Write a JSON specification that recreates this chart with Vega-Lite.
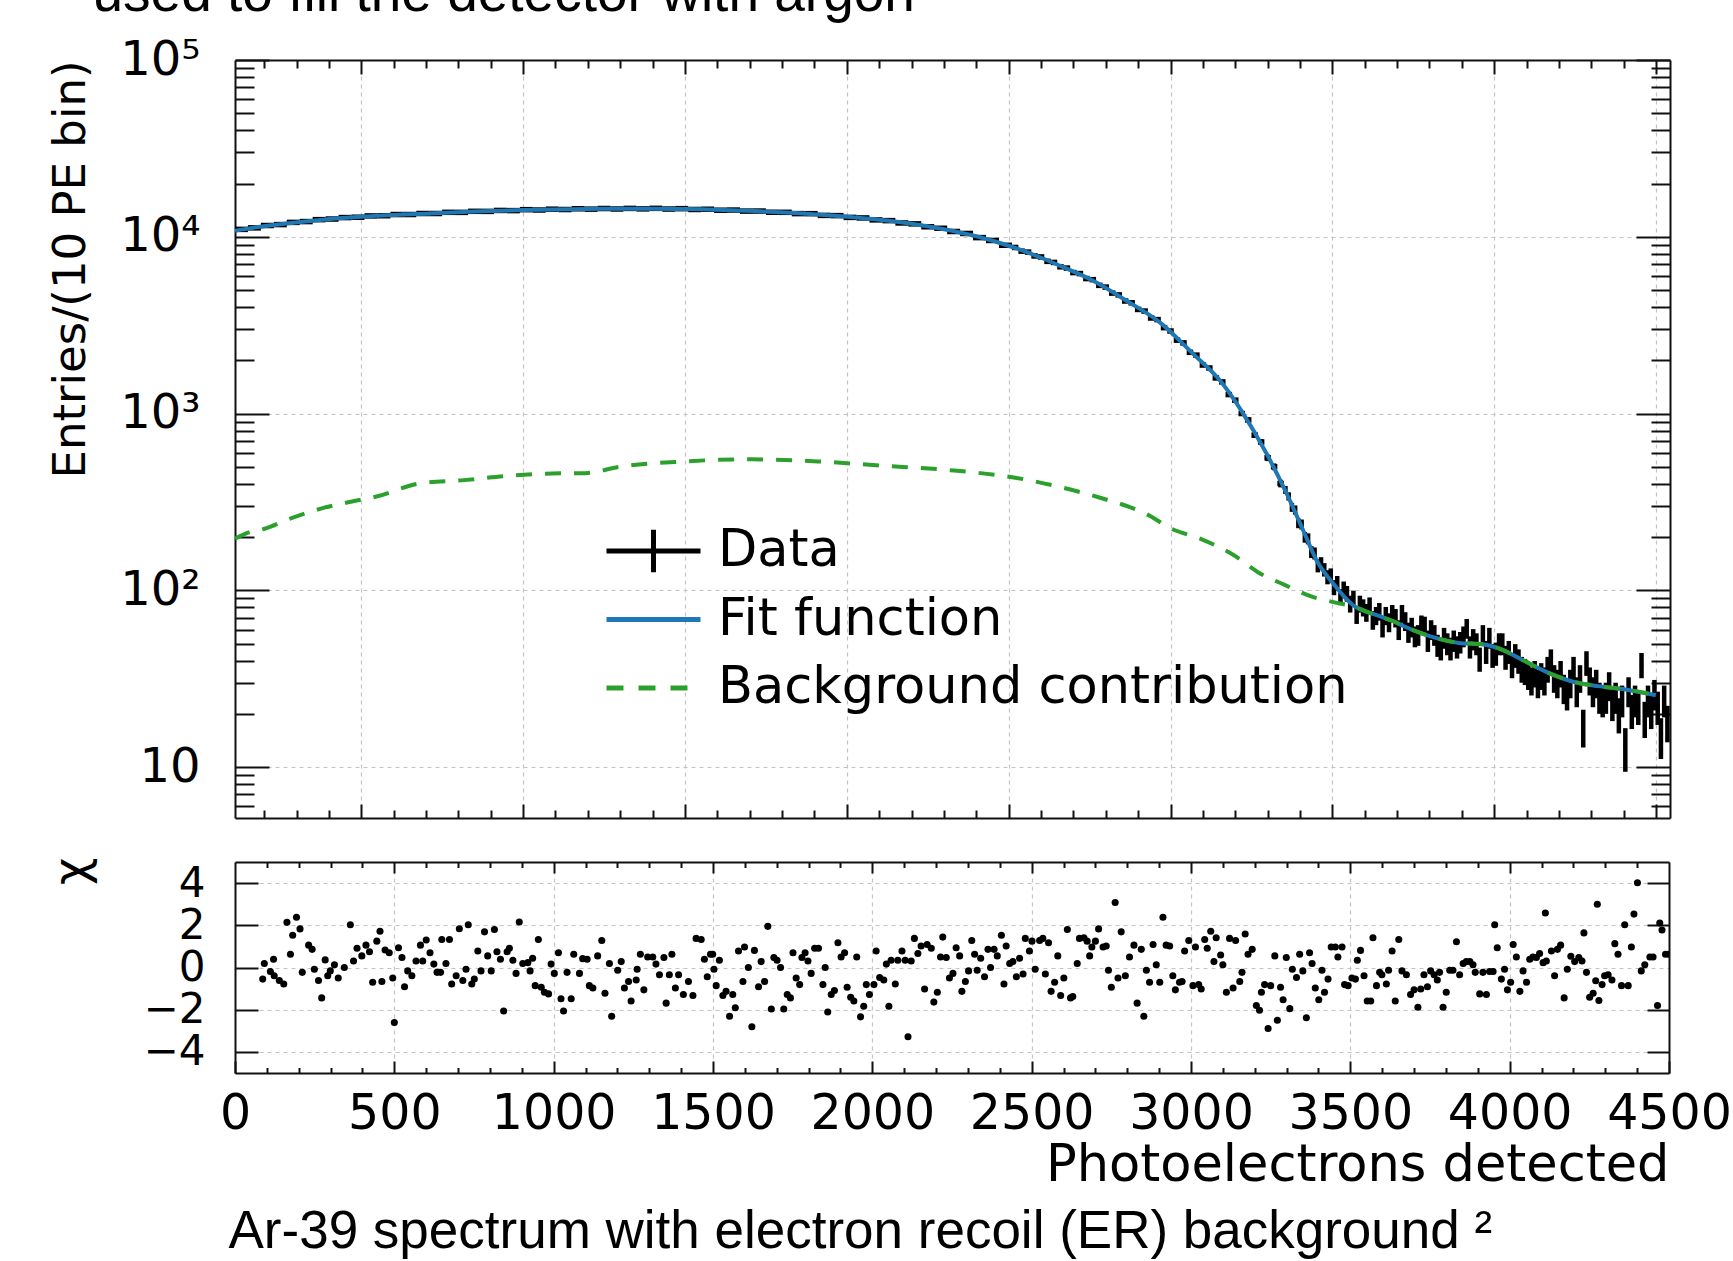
{
  "$schema": "https://vega.github.io/schema/vega-lite/v6.json",
  "autosize": {"type": "none"},
  "padding": {"left": 235, "top": 60, "right": 1498, "bottom": 1201},
  "background": "white",
  "config": {"view": {"stroke": null}},
  "datasets": {
    "fit": [{"x":110,"y":10810},{"x":180,"y":11350},{"x":270,"y":11890},{"x":380,"y":12500},{"x":500,"y":12980},{"x":713,"y":13550},{"x":850,"y":13900},{"x":1000,"y":14160},{"x":1245,"y":14390},{"x":1400,"y":14420},{"x":1504,"y":14350},{"x":1689,"y":14030},{"x":1866,"y":13540},{"x":2000,"y":12970},{"x":2100,"y":12470},{"x":2200,"y":11840},{"x":2300,"y":11030},{"x":2400,"y":10065},{"x":2500,"y":8897},{"x":2600,"y":7610},{"x":2658,"y":6859},{"x":2761,"y":5641},{"x":2864,"y":4348},{"x":2967,"y":3280},{"x":3070,"y":2174},{"x":3153,"y":1536},{"x":3225,"y":996},{"x":3297,"y":592},{"x":3359,"y":352},{"x":3410,"y":218},{"x":3451,"y":148},{"x":3503,"y":109},{"x":3564,"y":82.3},{"x":3637,"y":72.3},{"x":3688,"y":66.8},{"x":3721,"y":62.6},{"x":3822,"y":53.6},{"x":3890,"y":50.4},{"x":3963,"y":49.5},{"x":4016,"y":46.8},{"x":4089,"y":40.2},{"x":4173,"y":33.8},{"x":4247,"y":30.3},{"x":4321,"y":28.7},{"x":4405,"y":27.5},{"x":4499,"y":25.5}],
    "bg": [{"x":110,"y":196},{"x":150,"y":212},{"x":202,"y":223},{"x":270,"y":250},{"x":373,"y":289},{"x":475,"y":319},{"x":544,"y":338},{"x":680,"y":402},{"x":817,"y":420},{"x":954,"y":444},{"x":1090,"y":458},{"x":1193,"y":460},{"x":1295,"y":499},{"x":1500,"y":536},{"x":1705,"y":551},{"x":1910,"y":536},{"x":2115,"y":506},{"x":2320,"y":478},{"x":2525,"y":432},{"x":2658,"y":384},{"x":2780,"y":335},{"x":2934,"y":265},{"x":3003,"y":223},{"x":3091,"y":196},{"x":3196,"y":158},{"x":3269,"y":127},{"x":3354,"y":107},{"x":3437,"y":92},{"x":3500,"y":86},{"x":3564,"y":81},{"x":3637,"y":72},{"x":3688,"y":66.8},{"x":3721,"y":62.6},{"x":3822,"y":53.6},{"x":3890,"y":50.4},{"x":3963,"y":49.5},{"x":4016,"y":46.8},{"x":4089,"y":40.2},{"x":4173,"y":33.8},{"x":4247,"y":30.3},{"x":4321,"y":28.7},{"x":4405,"y":27.5},{"x":4499,"y":25.5}],
    "hist": [
{"x":130,"w":20,"y":11010,"e":105},{"x":170,"w":20,"y":11230,"e":106},{"x":210,"w":20,"y":11580,"e":108},{"x":250,"w":20,"y":11720,"e":108},{"x":290,"w":20,"y":12060,"e":110},{"x":330,"w":20,"y":12190,"e":110},{"x":370,"w":20,"y":12500,"e":112},{"x":410,"w":20,"y":12600,"e":112},{"x":450,"w":20,"y":12840,"e":113},{"x":490,"w":20,"y":12900,"e":114},{"x":530,"w":20,"y":13120,"e":115},{"x":570,"w":20,"y":13150,"e":115},{"x":610,"w":20,"y":13360,"e":116},{"x":650,"w":20,"y":13360,"e":116},{"x":690,"w":20,"y":13540,"e":116},{"x":730,"w":20,"y":13540,"e":116},{"x":770,"w":20,"y":13750,"e":117},{"x":810,"w":20,"y":13740,"e":117},{"x":850,"w":20,"y":13930,"e":118},{"x":890,"w":20,"y":13920,"e":118},{"x":930,"w":20,"y":14090,"e":119},{"x":970,"w":20,"y":14060,"e":119},{"x":1010,"w":20,"y":14230,"e":119},{"x":1050,"w":20,"y":14170,"e":119},{"x":1090,"w":20,"y":14320,"e":120},{"x":1130,"w":20,"y":14260,"e":119},{"x":1170,"w":20,"y":14400,"e":120},{"x":1210,"w":20,"y":14330,"e":120},{"x":1250,"w":20,"y":14450,"e":120},{"x":1290,"w":20,"y":14360,"e":120},{"x":1330,"w":20,"y":14470,"e":120},{"x":1370,"w":20,"y":14380,"e":120},{"x":1410,"w":20,"y":14480,"e":120},{"x":1450,"w":20,"y":14350,"e":120},{"x":1490,"w":20,"y":14420,"e":120},{"x":1530,"w":20,"y":14270,"e":119},{"x":1570,"w":20,"y":14310,"e":120},{"x":1610,"w":20,"y":14130,"e":119},{"x":1650,"w":20,"y":14160,"e":119},{"x":1690,"w":20,"y":13970,"e":118},{"x":1730,"w":20,"y":13980,"e":118},{"x":1770,"w":20,"y":13760,"e":117},{"x":1810,"w":20,"y":13750,"e":117},{"x":1850,"w":20,"y":13520,"e":116},{"x":1890,"w":20,"y":13510,"e":116},{"x":1930,"w":20,"y":13210,"e":115},{"x":1970,"w":20,"y":13170,"e":115},{"x":2010,"w":20,"y":12870,"e":113},{"x":2050,"w":20,"y":12780,"e":113},{"x":2090,"w":20,"y":12460,"e":112},{"x":2130,"w":20,"y":12340,"e":111},{"x":2170,"w":20,"y":11970,"e":109},{"x":2210,"w":20,"y":11830,"e":109},{"x":2250,"w":20,"y":11390,"e":107},{"x":2290,"w":20,"y":11170,"e":106},{"x":2330,"w":20,"y":10710,"e":103},{"x":2370,"w":20,"y":10440,"e":102},{"x":2410,"w":20,"y":9890,"e":99},{"x":2450,"w":20,"y":9530,"e":98},{"x":2490,"w":20,"y":8950,"e":95},
{"x":2520,"w":10,"y":8700,"e":93},{"x":2540,"w":10,"y":8290,"e":91},{"x":2560,"w":10,"y":8190,"e":90},{"x":2580,"w":10,"y":7790,"e":88},{"x":2600,"w":10,"y":7690,"e":88},{"x":2620,"w":10,"y":7260,"e":85},{"x":2640,"w":10,"y":7160,"e":85},{"x":2660,"w":10,"y":6760,"e":82},{"x":2680,"w":10,"y":6650,"e":82},{"x":2700,"w":10,"y":6270,"e":79},{"x":2720,"w":10,"y":6190,"e":79},{"x":2740,"w":10,"y":5800,"e":76},{"x":2760,"w":10,"y":5720,"e":76},{"x":2780,"w":10,"y":5310,"e":73},{"x":2800,"w":10,"y":5190,"e":72},{"x":2820,"w":10,"y":4800,"e":69},{"x":2840,"w":10,"y":4690,"e":68},{"x":2860,"w":10,"y":4330,"e":66},{"x":2880,"w":10,"y":4230,"e":65},{"x":2900,"w":10,"y":3880,"e":62},{"x":2920,"w":10,"y":3800,"e":62},{"x":2940,"w":10,"y":3470,"e":59},{"x":2960,"w":10,"y":3400,"e":58},{"x":2980,"w":10,"y":3060,"e":55},{"x":3000,"w":10,"y":2930,"e":54},{"x":3020,"w":10,"y":2600,"e":51},{"x":3040,"w":10,"y":2510,"e":50},{"x":3060,"w":10,"y":2220,"e":47},{"x":3080,"w":10,"y":2140,"e":46},{"x":3100,"w":10,"y":1880,"e":43},{"x":3120,"w":10,"y":1810,"e":43},{"x":3140,"w":10,"y":1590,"e":40},{"x":3160,"w":10,"y":1510,"e":39},{"x":3180,"w":10,"y":1280,"e":36},{"x":3200,"w":10,"y":1190,"e":34},{"x":3220,"w":10,"y":1000,"e":32},{"x":3240,"w":10,"y":920,"e":30},{"x":3260,"w":10,"y":755,"e":27},{"x":3280,"w":10,"y":690,"e":26},{"x":3300,"w":10,"y":562,"e":24},{"x":3320,"w":10,"y":500,"e":22},{"x":3340,"w":10,"y":402,"e":20},
{"x":3355,"w":5,"y":370,"e":19.2},{"x":3365,"w":5,"y":340,"e":18.4},{"x":3375,"w":5,"y":295,"e":17.2},{"x":3385,"w":5,"y":285,"e":16.9},{"x":3395,"w":5,"y":240,"e":15.5},{"x":3405,"w":5,"y":236,"e":15.4},{"x":3415,"w":5,"y":200,"e":14.1},{"x":3425,"w":5,"y":196,"e":14},{"x":3435,"w":5,"y":165,"e":12.8},{"x":3445,"w":5,"y":162,"e":12.7},{"x":3455,"w":5,"y":138,"e":11.7},{"x":3465,"w":5,"y":142,"e":11.9},{"x":3475,"w":5,"y":131,"e":11.4},{"x":3485,"w":5,"y":119,"e":10.9},{"x":3495,"w":5,"y":122,"e":11},{"x":3505,"w":5,"y":104,"e":10.2},{"x":3515,"w":5,"y":110,"e":10.5},{"x":3525,"w":5,"y":92,"e":9.6},{"x":3535,"w":5,"y":102,"e":10.1},{"x":3545,"w":5,"y":96,"e":9.8},{"x":3555,"w":5,"y":84,"e":9.2},{"x":3565,"w":5,"y":90,"e":9.5},{"x":3575,"w":5,"y":73,"e":8.5},{"x":3585,"w":5,"y":84,"e":9.2},{"x":3595,"w":5,"y":80,"e":8.9},{"x":3605,"w":5,"y":75,"e":8.7},{"x":3615,"w":5,"y":82,"e":9.1},{"x":3625,"w":5,"y":68,"e":8.2},{"x":3635,"w":5,"y":72,"e":8.5},{"x":3645,"w":5,"y":76,"e":8.7},{"x":3655,"w":5,"y":62,"e":7.9},{"x":3665,"w":5,"y":72,"e":8.5},{"x":3675,"w":5,"y":66,"e":8.1},{"x":3685,"w":5,"y":74,"e":8.6},{"x":3695,"w":5,"y":70,"e":8.4},{"x":3705,"w":5,"y":60,"e":7.7},{"x":3715,"w":5,"y":74,"e":8.6},{"x":3725,"w":5,"y":67,"e":8.2},{"x":3735,"w":5,"y":58,"e":7.6},{"x":3745,"w":5,"y":62,"e":7.9},{"x":3755,"w":5,"y":55,"e":7.4},{"x":3765,"w":5,"y":56,"e":7.5},{"x":3775,"w":5,"y":64,"e":8},{"x":3785,"w":5,"y":63,"e":7.9},{"x":3795,"w":5,"y":52,"e":7.2},{"x":3805,"w":5,"y":60,"e":7.7},{"x":3815,"w":5,"y":56,"e":7.5},{"x":3825,"w":5,"y":49,"e":7},{"x":3835,"w":5,"y":47,"e":6.9},{"x":3845,"w":5,"y":54,"e":7.3},{"x":3855,"w":5,"y":50,"e":7.1},{"x":3865,"w":5,"y":47,"e":6.9},{"x":3875,"w":5,"y":52,"e":7.2},{"x":3885,"w":5,"y":48,"e":6.9},{"x":3895,"w":5,"y":51,"e":7.1},{"x":3905,"w":5,"y":55,"e":7.4},{"x":3915,"w":5,"y":61,"e":7.8},{"x":3925,"w":5,"y":48,"e":6.9},{"x":3935,"w":5,"y":53,"e":7.3},{"x":3945,"w":5,"y":50,"e":7.1},{"x":3955,"w":5,"y":41,"e":6.4},{"x":3965,"w":5,"y":56,"e":7.5},{"x":3975,"w":5,"y":45,"e":6.7},{"x":3985,"w":5,"y":54,"e":7.3},{"x":3995,"w":5,"y":43,"e":6.6},{"x":4005,"w":5,"y":44,"e":6.6},{"x":4015,"w":5,"y":50,"e":7.1},{"x":4025,"w":5,"y":50,"e":7.1},{"x":4035,"w":5,"y":42,"e":6.5},{"x":4045,"w":5,"y":45,"e":6.7},{"x":4055,"w":5,"y":38,"e":6.2},{"x":4065,"w":5,"y":43,"e":6.6},{"x":4075,"w":5,"y":40,"e":6.3},{"x":4085,"w":5,"y":36,"e":6},{"x":4095,"w":5,"y":35,"e":5.9},{"x":4105,"w":5,"y":33,"e":5.7},{"x":4115,"w":5,"y":31,"e":5.6},{"x":4125,"w":5,"y":34,"e":5.8},{"x":4135,"w":5,"y":30,"e":5.5},{"x":4145,"w":5,"y":33,"e":5.7},{"x":4155,"w":5,"y":31,"e":5.6},{"x":4165,"w":5,"y":36,"e":6},{"x":4175,"w":5,"y":40,"e":6.3},{"x":4185,"w":5,"y":32,"e":5.7},{"x":4195,"w":5,"y":30,"e":5.5},{"x":4205,"w":5,"y":34,"e":5.8},{"x":4215,"w":5,"y":28,"e":5.3},{"x":4225,"w":5,"y":26,"e":5.1},{"x":4235,"w":5,"y":30,"e":5.5},{"x":4245,"w":5,"y":36,"e":6},{"x":4255,"w":5,"y":27,"e":5.2},{"x":4265,"w":5,"y":32,"e":5.7},{"x":4275,"w":5,"y":17,"e":4.1},{"x":4285,"w":5,"y":39,"e":6.2},{"x":4295,"w":5,"y":31,"e":5.6},{"x":4305,"w":5,"y":27,"e":5.2},{"x":4315,"w":5,"y":30,"e":5.5},{"x":4325,"w":5,"y":25,"e":5},{"x":4335,"w":5,"y":24,"e":4.9},{"x":4345,"w":5,"y":25,"e":5},{"x":4355,"w":5,"y":29,"e":5.4},{"x":4365,"w":5,"y":23,"e":4.8},{"x":4375,"w":5,"y":25,"e":5},{"x":4385,"w":5,"y":20,"e":4.5},{"x":4395,"w":5,"y":24,"e":4.9},{"x":4405,"w":5,"y":13,"e":3.6},{"x":4415,"w":5,"y":27,"e":5.2},{"x":4425,"w":5,"y":21,"e":4.6},{"x":4435,"w":5,"y":24,"e":4.9},{"x":4445,"w":5,"y":22,"e":4.7},{"x":4455,"w":5,"y":38,"e":6.2},{"x":4465,"w":5,"y":19,"e":4.4},{"x":4475,"w":5,"y":24,"e":4.9},{"x":4485,"w":5,"y":21,"e":4.6},{"x":4495,"w":5,"y":26,"e":5.1},{"x":4505,"w":5,"y":22,"e":4.7},{"x":4515,"w":5,"y":15,"e":3.9},{"x":4525,"w":5,"y":24,"e":4.9},{"x":4535,"w":5,"y":18,"e":4.2}
    ],
    "chi": [
{"x":87,"c":-0.55},{"x":92,"c":0.19},{"x":111,"c":-0.19},{"x":121,"c":0.39},{"x":123,"c":-0.39},{"x":139,"c":-0.62},{"x":153,"c":-0.78},{"x":163,"c":2.14},{"x":174,"c":0.63},{"x":181,"c":1.53},{"x":193,"c":2.38},{"x":204,"c":1.83},{"x":211,"c":-0.23},{"x":231,"c":1.06},{"x":242,"c":0.86},{"x":249,"c":-0.08},{"x":262,"c":-0.62},{"x":272,"c":-1.44},{"x":283,"c":0.36},{"x":291,"c":-0.39},{"x":299,"c":-0.16},{"x":312,"c":0.13},{"x":324,"c":-0.5},{"x":343,"c":0},{"x":362,"c":2.03},{"x":372,"c":0.31},{"x":383,"c":0.91},{"x":398,"c":0.55},{"x":411,"c":1.06},{"x":422,"c":0.75},{"x":432,"c":-0.7},{"x":445,"c":1.25},{"x":455,"c":1.72},{"x":461,"c":-0.66},{"x":471,"c":0.83},{"x":484,"c":0.7},{"x":495,"c":-0.5},{"x":500,"c":-2.61},{"x":513,"c":0.94},{"x":524,"c":0.47},{"x":532,"c":-0.91},{"x":542,"c":-0.16},{"x":555,"c":-0.39},{"x":568,"c":0.31},{"x":582,"c":1.06},{"x":589,"c":0.31},{"x":600,"c":1.3},{"x":612,"c":0.7},{"x":624,"c":0.16},{"x":634,"c":-0.23},{"x":645,"c":-0.23},{"x":649,"c":1.33},{"x":662,"c":0.19},{"x":673,"c":1.33},{"x":680,"c":-0.78},{"x":694,"c":-0.39},{"x":704,"c":1.84},{"x":715,"c":-0.62},{"x":725,"c":-0.08},{"x":732,"c":2.03},{"x":743,"c":-0.78},{"x":751,"c":-0.55},{"x":762,"c":0.78},{"x":772,"c":-0.16},{"x":783,"c":1.69},{"x":793,"c":0.55},{"x":804,"c":-0.16},{"x":814,"c":1.8},{"x":822,"c":0.75},{"x":833,"c":0.39},{"x":843,"c":-2.06},{"x":854,"c":0.75},{"x":861,"c":0.91},{"x":872,"c":0.34},{"x":882,"c":-0.28},{"x":892,"c":2.16},{"x":903,"c":0.19},{"x":919,"c":0.23},{"x":926,"c":-0.16},{"x":934,"c":0.44},{"x":942,"c":-0.86},{"x":952,"c":1.33},{"x":961,"c":-0.94},{"x":971,"c":-1.17},{"x":984,"c":-1.25},{"x":992,"c":0.16},{"x":1002,"c":-0.28},{"x":1015,"c":0.7},{"x":1023,"c":-1.48},{"x":1031,"c":-2.06},{"x":1042,"c":-0.23},{"x":1055,"c":-1.48},{"x":1063,"c":0.63},{"x":1081,"c":-0.28},{"x":1091,"c":0.42},{"x":1105,"c":0.39},{"x":1112,"c":-0.86},{"x":1123,"c":-0.97},{"x":1138,"c":0.55},{"x":1151,"c":1.28},{"x":1161,"c":-1.22},{"x":1175,"c":0.19},{"x":1182,"c":-2.31},{"x":1201,"c":-0.13},{"x":1212,"c":0.28},{"x":1222,"c":-0.97},{"x":1235,"c":-0.66},{"x":1243,"c":-1.59},{"x":1259,"c":-0.59},{"x":1262,"c":-0.08},{"x":1272,"c":0.63},{"x":1283,"c":-1.06},{"x":1295,"c":0.5},{"x":1311,"c":0.5},{"x":1321,"c":0.16},{"x":1332,"c":-0.34},{"x":1346,"c":0.47},{"x":1353,"c":-1.69},{"x":1363,"c":-0.34},{"x":1371,"c":0.63},{"x":1382,"c":-0.97},{"x":1392,"c":-0.34},{"x":1407,"c":-1.28},{"x":1423,"c":-0.66},{"x":1437,"c":-1.33},{"x":1447,"c":1.38},{"x":1463,"c":1.33},{"x":1473,"c":0.39},{"x":1482,"c":-0.44},{"x":1492,"c":0.63},
{"x":1499,"c":0.63},{"x":1503,"c":-0.08},{"x":1510,"c":-0.86},{"x":1520,"c":0.34},{"x":1531,"c":-1.33},{"x":1541,"c":-1.13},{"x":1552,"c":-2.31},{"x":1562,"c":-1.28},{"x":1570,"c":-1.91},{"x":1580,"c":0.78},{"x":1594,"c":-0.66},{"x":1599,"c":0.97},{"x":1611,"c":0},{"x":1622,"c":-2.81},{"x":1630,"c":0.81},{"x":1643,"c":-0.91},{"x":1651,"c":0.28},{"x":1662,"c":-0.66},{"x":1672,"c":1.95},{"x":1683,"c":-1.97},{"x":1691,"c":0.47},{"x":1701,"c":0.34},{"x":1712,"c":0},{"x":1722,"c":-1.97},{"x":1733,"c":-1.28},{"x":1743,"c":-1.44},{"x":1751,"c":0.7},{"x":1761,"c":-0.5},{"x":1772,"c":-0.81},{"x":1779,"c":0.47},{"x":1789,"c":0.7},{"x":1798,"c":0.31},{"x":1808,"c":-0.28},{"x":1819,"c":0.91},{"x":1831,"c":0.91},{"x":1845,"c":-0.81},{"x":1852,"c":0},{"x":1860,"c":-2.11},{"x":1871,"c":-1.28},{"x":1881,"c":-1.09},{"x":1892,"c":1.17},{"x":1902,"c":0.5},{"x":1913,"c":0.7},{"x":1921,"c":-0.94},{"x":1932,"c":-1.41},{"x":1942,"c":-1.59},{"x":1951,"c":0.5},{"x":1963,"c":-2.34},{"x":1973,"c":-1.84},{"x":1981,"c":-0.81},{"x":1991,"c":-1.28},{"x":2005,"c":-0.81},{"x":2012,"c":0.78},{"x":2023,"c":-0.47},{"x":2036,"c":-0.59},{"x":2044,"c":0.16},{"x":2052,"c":-1.84},{"x":2059,"c":0.34},{"x":2072,"c":-0.78},{"x":2080,"c":0.34},{"x":2093,"c":0.78},{"x":2103,"c":0.34},{"x":2112,"c":-3.28},{"x":2122,"c":0.31},{"x":2132,"c":1.38},{"x":2143,"c":0.66},{"x":2153,"c":1.02},{"x":2164,"c":-1.02},{"x":2172,"c":1.09},{"x":2185,"c":0.91},{"x":2193,"c":-1.64},{"x":2204,"c":-1.17},{"x":2214,"c":0.5},{"x":2221,"c":1.44},{"x":2232,"c":0.47},{"x":2242,"c":-0.5},{"x":2253,"c":-0.28},{"x":2263,"c":0.94},{"x":2274,"c":0.55},{"x":2281,"c":-1.13},{"x":2292,"c":-0.66},{"x":2302,"c":-0.16},{"x":2312,"c":1.28},{"x":2321,"c":0.63},{"x":2329,"c":-0.13},{"x":2340,"c":0.44},{"x":2352,"c":-0.44},{"x":2363,"c":0.86},{"x":2371,"c":0},{"x":2382,"c":0.86},{"x":2392,"c":0.55},{"x":2405,"c":1.53},{"x":2413,"c":-0.78},{"x":2420,"c":1.02},{"x":2431,"c":0.19},{"x":2441,"c":0.28},{"x":2452,"c":-0.44},{"x":2462,"c":0.44},{"x":2473,"c":-0.31},{"x":2480,"c":1.38},{"x":2493,"c":0.78},{"x":2501,"c":1.25},{"x":2511,"c":-0.08},{"x":2525,"c":1.28},{"x":2535,"c":1.38},{"x":2543,"c":-0.31},{"x":2553,"c":1.17},{"x":2561,"c":-1.13},{"x":2572,"c":-0.7},{"x":2582,"c":0.55},{"x":2591,"c":-1.33},{"x":2601,"c":-0.5},{"x":2612,"c":1.8},{"x":2622,"c":-1.44},{"x":2629,"c":-1.38},{"x":2643,"c":0.19},{"x":2650,"c":1.38},{"x":2664,"c":1.41},{"x":2674,"c":1.25},{"x":2682,"c":0.55},{"x":2689,"c":0.97},{"x":2700,"c":1.25},{"x":2710,"c":1.83},{"x":2724,"c":0.97},{"x":2734,"c":1.02},{"x":2741,"c":-0.13},{"x":2750,"c":-0.94},{"x":2762,"c":3.08},{"x":2771,"c":-0.5},{"x":2781,"c":1.69},{"x":2794,"c":-0.39},{"x":2807,"c":0.5},{"x":2821,"c":1.06},{"x":2831,"c":-1.69},{"x":2844,"c":0.86},{"x":2852,"c":-2.31},{"x":2860,"c":-0.13},{"x":2870,"c":-0.7},{"x":2881,"c":1.09},{"x":2891,"c":0.13},{"x":2902,"c":-0.7},{"x":2912,"c":2.38},{"x":2922,"c":1.06},{"x":2933,"c":1.02},{"x":2943,"c":-0.39},{"x":2951,"c":-1.06},{"x":2964,"c":-0.7},{"x":2972,"c":-0.66},{"x":2980,"c":0.78},{"x":2993,"c":1.28},
{"x":3006,"c":-0.86},{"x":3014,"c":0.97},{"x":3024,"c":-0.81},{"x":3032,"c":-1.02},{"x":3043,"c":1.33},{"x":3051,"c":0.91},{"x":3062,"c":1.72},{"x":3072,"c":0.28},{"x":3079,"c":1.41},{"x":3093,"c":0.59},{"x":3100,"c":0.13},{"x":3111,"c":-1.17},{"x":3121,"c":1.38},{"x":3132,"c":-0.97},{"x":3140,"c":1.28},{"x":3153,"c":-0.66},{"x":3160,"c":-0.23},{"x":3170,"c":1.59},{"x":3179,"c":0.63},{"x":3192,"c":0.86},{"x":3205,"c":-1.8},{"x":3215,"c":-2.03},{"x":3221,"c":-1.17},{"x":3231,"c":-0.81},{"x":3242,"c":-2.89},{"x":3250,"c":-0.86},{"x":3263,"c":0.55},{"x":3271,"c":-2.5},{"x":3281,"c":-0.94},{"x":3289,"c":-1.53},{"x":3299,"c":0.47},{"x":3310,"c":-1.95},{"x":3318,"c":-0.08},{"x":3331,"c":-0.47},{"x":3341,"c":0.63},{"x":3351,"c":-0.16},{"x":3362,"c":-2.38},{"x":3372,"c":0.7},{"x":3380,"c":0.19},{"x":3390,"c":-0.97},{"x":3401,"c":-1.53},{"x":3411,"c":-0.13},{"x":3419,"c":-1.17},{"x":3430,"c":-0.55},{"x":3440,"c":0.97},{"x":3453,"c":0.97},{"x":3461,"c":0.5},{"x":3474,"c":0.97},{"x":3482,"c":-0.81},{"x":3493,"c":-0.86},{"x":3505,"c":-0.5},{"x":3516,"c":-0.55},{"x":3522,"c":0.34},{"x":3532,"c":0.81},{"x":3543,"c":-0.39},{"x":3553,"c":-1.59},{"x":3564,"c":-1.59},{"x":3571,"c":1.41},{"x":3582,"c":-0.86},{"x":3592,"c":-0.23},{"x":3599,"c":-0.34},{"x":3613,"c":-0.78},{"x":3620,"c":-0.13},{"x":3631,"c":0.78},{"x":3641,"c":-1.59},{"x":3652,"c":1.33},{"x":3662,"c":-0.16},{"x":3676,"c":-0.34},{"x":3689,"c":-1.28},{"x":3700,"c":-1.06},{"x":3712,"c":-1.88},{"x":3721,"c":-1.02},{"x":3731,"c":-0.34},{"x":3742,"c":-0.91},{"x":3752,"c":-0.16},{"x":3763,"c":-0.34},{"x":3773,"c":-0.59},{"x":3780,"c":-0.23},{"x":3791,"c":-1.88},{"x":3801,"c":-1.17},{"x":3812,"c":-0.13},{"x":3822,"c":-0.13},{"x":3833,"c":1.22},{"x":3843,"c":-0.34},{"x":3854,"c":0.19},{"x":3864,"c":0.28},{"x":3875,"c":0.28},{"x":3885,"c":0.13},{"x":3892,"c":-0.23},{"x":3906,"c":-1.25},{"x":3916,"c":-0.23},{"x":3927,"c":-1.28},{"x":3937,"c":-0.19},{"x":3948,"c":-0.19},{"x":3953,"c":2.03},{"x":3961,"c":0.94},{"x":3974,"c":-0.55},{"x":3984,"c":-0.08},{"x":3993,"c":-1.06},{"x":4003,"c":-0.7},{"x":4011,"c":1.09},{"x":4021,"c":0.5},{"x":4032,"c":-1.13},{"x":4042,"c":-0.16},{"x":4053,"c":-0.7},{"x":4063,"c":0.39},{"x":4073,"c":0.5},{"x":4084,"c":0.47},{"x":4094,"c":0.66},{"x":4105,"c":0.23},{"x":4112,"c":2.58},{"x":4115,"c":0.31},{"x":4131,"c":0.78},{"x":4141,"c":-0.39},{"x":4150,"c":0.86},{"x":4160,"c":1.06},{"x":4171,"c":-1.44},{"x":4181,"c":-0.08},{"x":4192,"c":0.53},{"x":4204,"c":0.28},{"x":4217,"c":0.47},{"x":4227,"c":0.31},{"x":4233,"c":1.64},{"x":4241,"c":-0.23},{"x":4251,"c":-1.41},{"x":4262,"c":-1.22},{"x":4270,"c":-0.63},{"x":4275,"c":3.0},{"x":4280,"c":-1.56},{"x":4290,"c":-0.81},{"x":4298,"c":-0.39},{"x":4309,"c":-0.34},{"x":4321,"c":-0.59},{"x":4330,"c":1.13},{"x":4340,"c":0.63},{"x":4351,"c":-0.86},{"x":4361,"c":2.03},{"x":4372,"c":-0.86},{"x":4382,"c":0.97},{"x":4390,"c":2.53},{"x":4401,"c":4.02},{"x":4413,"c":-0.16},{"x":4424,"c":0.13},{"x":4440,"c":0.5},{"x":4450,"c":0.5},{"x":4464,"c":-1.8},{"x":4471,"c":2.11},{"x":4478,"c":1.78},{"x":4489,"c":0.63},{"x":4499,"c":0.63}
    ]
  },
  "vconcat": [
    {
      "width": 1435,
      "height": 758,
      "layer": [
        {
          "data": {"name": "hist"},
          "mark": {"type": "errorbar", "thickness": 4.5},
          "encoding": {
            "x": {"field": "x", "type": "quantitative", "scale": {"domain": [110, 4543], "nice": false, "zero": false}, "axis": null},
            "y": {"field": "y", "type": "quantitative", "scale": {"type": "log", "domain": [5.15, 100000], "nice": false}, "axis": null},
            "yError": {"field": "e"},
            "color": {"datum": "Data"}
          }
        },
        {
          "data": {"name": "hist"},
          "mark": {"type": "errorbar", "thickness": 5.5},
          "encoding": {
            "x": {"field": "x", "type": "quantitative", "scale": {"domain": [110, 4543], "nice": false, "zero": false}, "axis": null},
            "xError": {"field": "w"},
            "y": {"field": "y", "type": "quantitative", "scale": {"type": "log", "domain": [5.15, 100000], "nice": false}, "axis": null},
            "color": {"datum": "Data"}
          }
        },
        {
          "data": {"name": "fit"},
          "mark": {"type": "line", "strokeOpacity": 0},
          "encoding": {
            "x": {"field": "x", "type": "quantitative", "scale": {"domain": [110, 4543], "nice": false, "zero": false},
              "axis": {"orient": "top", "values": [500,1000,1500,2000,2500,3000,3500,4000,4500], "labels": false, "title": null, "tickSize": -14, "tickWidth": 2, "tickColor": "#111", "domain": true, "domainColor": "#111", "domainWidth": 2, "grid": false}},
            "y": {"field": "y", "type": "quantitative", "scale": {"type": "log", "domain": [5.15, 100000], "nice": false},
              "axis": {"orient": "right", "values": [10,100,1000,10000,100000], "labels": false, "title": null, "tickSize": -34, "tickWidth": 2, "tickColor": "#111", "domain": true, "domainColor": "#111", "domainWidth": 2, "grid": false}}
          }
        },
        {
          "data": {"name": "fit"},
          "mark": {"type": "line", "strokeOpacity": 0},
          "encoding": {
            "x": {"field": "x", "type": "quantitative", "scale": {"domain": [110, 4543], "nice": false, "zero": false},
              "axis": {"orient": "top", "values": [200,300,400,600,700,800,900,1100,1200,1300,1400,1600,1700,1800,1900,2100,2200,2300,2400,2600,2700,2800,2900,3100,3200,3300,3400,3600,3700,3800,3900,4100,4200,4300,4400], "labels": false, "tickSize": -8, "tickWidth": 2, "tickColor": "#111", "domain": false, "grid": false,
                "title": "used to fill the detector with argon", "titleFont": "Liberation Sans", "titleFontSize": 55, "titleFontWeight": "normal", "titleColor": "#000", "titleX": -143, "titleY": -50, "titleAlign": "left", "titleBaseline": "alphabetic", "titleAngle": 0, "titleLimit": 3000}},
            "y": {"field": "y", "type": "quantitative", "scale": {"type": "log", "domain": [5.15, 100000], "nice": false},
              "axis": {"orient": "right", "values": [6,7,8,9,20,30,40,50,60,70,80,90,200,300,400,500,600,700,800,900,2000,3000,4000,5000,6000,7000,8000,9000,20000,30000,40000,50000,60000,70000,80000,90000], "labels": false, "title": null, "tickSize": -19, "tickWidth": 2, "tickColor": "#111", "domain": false, "grid": false}}
          }
        },
        {
          "data": {"name": "fit"},
          "mark": {"type": "line", "strokeWidth": 4, "interpolate": "monotone", "clip": true},
          "encoding": {
            "x": {"field": "x", "type": "quantitative", "scale": {"domain": [110, 4543], "nice": false, "zero": false},
              "axis": {"orient": "bottom", "values": [200,300,400,600,700,800,900,1100,1200,1300,1400,1600,1700,1800,1900,2100,2200,2300,2400,2600,2700,2800,2900,3100,3200,3300,3400,3600,3700,3800,3900,4100,4200,4300,4400], "labels": false, "title": null, "tickSize": -8, "tickWidth": 2, "tickColor": "#111", "domain": false, "grid": false}},
            "y": {"field": "y", "type": "quantitative", "scale": {"type": "log", "domain": [5.15, 100000], "nice": false},
              "axis": {"orient": "left", "values": [6,7,8,9,20,30,40,50,60,70,80,90,200,300,400,500,600,700,800,900,2000,3000,4000,5000,6000,7000,8000,9000,20000,30000,40000,50000,60000,70000,80000,90000], "labels": false, "title": null, "tickSize": -19, "tickWidth": 2, "tickColor": "#111", "domain": false, "grid": false}},
            "color": {"datum": "Fit function"}
          }
        },
        {
          "data": {"name": "bg"},
          "mark": {"type": "line", "strokeWidth": 4, "strokeDash": [16, 13], "interpolate": "monotone", "clip": true},
          "encoding": {
            "x": {"field": "x", "type": "quantitative", "scale": {"domain": [110, 4543], "nice": false, "zero": false},
              "axis": {"orient": "bottom", "values": [500,1000,1500,2000,2500,3000,3500,4000,4500], "labels": false, "title": null, "tickSize": -14, "tickWidth": 2, "tickColor": "#111", "domain": true, "domainColor": "#111", "domainWidth": 2, "grid": true, "gridColor": "#c4c4c4", "gridDash": [4, 4], "gridWidth": 1.2}},
            "y": {"field": "y", "type": "quantitative", "scale": {"type": "log", "domain": [5.15, 100000], "nice": false},
              "axis": {"orient": "left", "values": [10,100,1000,10000,100000],
                "labelExpr": "datum.value == 10 ? '10' : datum.value == 100 ? '10²' : datum.value == 1000 ? '10³' : datum.value == 10000 ? '10⁴' : '10⁵'",
                "labelFont": "DejaVu Sans", "labelFontSize": 48, "labelColor": "#000", "labelPadding": 69, "labelFlush": false, "labelOverlap": false, "labelBound": false,
                "tickSize": -34, "tickWidth": 2, "tickColor": "#111", "domain": true, "domainColor": "#111", "domainWidth": 2,
                "grid": true, "gridColor": "#c4c4c4", "gridDash": [4, 4], "gridWidth": 1.2,
                "title": "Entries/(10 PE bin)", "titleFont": "DejaVu Sans", "titleFontSize": 45, "titleFontWeight": "normal", "titleColor": "#000",
                "titleX": -151, "titleY": 0, "titleAngle": 270, "titleAlign": "right", "titleBaseline": "alphabetic", "titleLimit": 3000}},
            "color": {
              "datum": "Background contribution",
              "scale": {"domain": ["Data", "Fit function", "Background contribution"], "range": ["#000000", "#1f77b4", "#2ca02c"]},
              "legend": {
                "orient": "none", "legendX": 369, "legendY": 461, "title": null, "padding": 0,
                "symbolType": "stroke", "symbolSize": 8836, "symbolStrokeWidth": 5,
                "labelFont": "DejaVu Sans", "labelFontSize": 51, "labelColor": "#000", "labelOffset": 15, "labelLimit": 3000,
                "clipHeight": 60, "rowPadding": 8.5,
                "encode": {"symbols": {"update": {
                  "shape": {"signal": "datum.value === 'Data' ? 'M-1,0H1M0,-0.45V0.45' : 'stroke'"},
                  "strokeDash": {"signal": "datum.value === 'Background contribution' ? [17, 15] : [1, 0]"},
                  "strokeWidth": {"value": 5}
                }}}
              }
            }
          }
        }
      ],
      "resolve": {"axis": {"x": "independent", "y": "independent"}}
    },
    {
      "width": 1434,
      "height": 211,
      "layer": [
        {
          "data": {"name": "chi"},
          "mark": {"type": "circle", "size": 50, "color": "#000", "opacity": 1, "clip": true},
          "encoding": {
            "x": {"field": "x", "type": "quantitative", "scale": {"domain": [0, 4500], "nice": false, "zero": false},
              "axis": {"orient": "bottom", "values": [0,500,1000,1500,2000,2500,3000,3500,4000,4500], "format": "d",
                "labelFont": "DejaVu Sans", "labelFontSize": 49, "labelColor": "#000", "labelPadding": 28, "labelFlush": false, "labelOverlap": false, "labelBound": false,
                "tickSize": -12, "tickWidth": 2, "tickColor": "#111", "domain": true, "domainColor": "#111", "domainWidth": 2,
                "grid": true, "gridColor": "#c4c4c4", "gridDash": [4, 4], "gridWidth": 1.2,
                "title": "Photoelectrons detected", "titleFont": "DejaVu Sans", "titleFontSize": 51, "titleFontWeight": "normal", "titleColor": "#000",
                "titleX": 1434, "titleY": 107, "titleAlign": "right", "titleBaseline": "alphabetic", "titleAngle": 0, "titleLimit": 3000}},
            "y": {"field": "c", "type": "quantitative", "scale": {"domain": [-5, 5], "nice": false, "zero": false},
              "axis": {"orient": "left", "values": [-4,-2,0,2,4],
                "labelExpr": "datum.value < 0 ? '−' + (-datum.value) : '' + datum.value",
                "labelFont": "DejaVu Sans", "labelFontSize": 42, "labelColor": "#000", "labelPadding": 53, "labelFlush": false, "labelOverlap": false, "labelBound": false,
                "tickSize": -23, "tickWidth": 2, "tickColor": "#111", "domain": true, "domainColor": "#111", "domainWidth": 2,
                "grid": true, "gridColor": "#c4c4c4", "gridDash": [4, 4], "gridWidth": 1.2,
                "title": "χ", "titleFont": "DejaVu Sans", "titleFontSize": 48, "titleFontWeight": "normal", "titleColor": "#000",
                "titleX": -149, "titleY": -5, "titleAngle": 270, "titleAlign": "right", "titleBaseline": "alphabetic"}}
          }
        },
        {
          "data": {"name": "chi"},
          "mark": {"type": "circle", "opacity": 0},
          "encoding": {
            "x": {"field": "x", "type": "quantitative", "scale": {"domain": [0, 4500], "nice": false, "zero": false},
              "axis": {"orient": "bottom", "values": [100,200,300,400,600,700,800,900,1100,1200,1300,1400,1600,1700,1800,1900,2100,2200,2300,2400,2600,2700,2800,2900,3100,3200,3300,3400,3600,3700,3800,3900,4100,4200,4300,4400], "labels": false, "tickSize": -5.5, "tickWidth": 2, "tickColor": "#111", "domain": false, "grid": false,
                "title": "Ar-39 spectrum with electron recoil (ER) background ²", "titleFont": "Liberation Sans", "titleFontSize": 53, "titleFontWeight": "normal", "titleColor": "#000",
                "titleX": -7, "titleY": 174, "titleAlign": "left", "titleBaseline": "alphabetic", "titleAngle": 0, "titleLimit": 3000}},
            "y": {"field": "c", "type": "quantitative", "scale": {"domain": [-5, 5], "nice": false, "zero": false},
              "axis": {"orient": "right", "values": [-4,-2,2,4], "labels": false, "title": null, "tickSize": -22, "tickWidth": 2, "tickColor": "#111", "domain": true, "domainColor": "#111", "domainWidth": 2, "grid": false}}
          }
        },
        {
          "data": {"name": "chi"},
          "mark": {"type": "circle", "opacity": 0},
          "encoding": {
            "x": {"field": "x", "type": "quantitative", "scale": {"domain": [0, 4500], "nice": false, "zero": false},
              "axis": {"orient": "top", "values": [500,1000,1500,2000,2500,3000,3500,4000], "labels": false, "title": null, "tickSize": -11, "tickWidth": 2, "tickColor": "#111", "domain": true, "domainColor": "#111", "domainWidth": 2, "grid": false}},
            "y": {"field": "c", "type": "quantitative", "scale": {"domain": [-5, 5], "nice": false, "zero": false}, "axis": null}
          }
        },
        {
          "data": {"name": "chi"},
          "mark": {"type": "circle", "opacity": 0},
          "encoding": {
            "x": {"field": "x", "type": "quantitative", "scale": {"domain": [0, 4500], "nice": false, "zero": false},
              "axis": {"orient": "top", "values": [100,200,300,400,600,700,800,900,1100,1200,1300,1400,1600,1700,1800,1900,2100,2200,2300,2400,2600,2700,2800,2900,3100,3200,3300,3400,3600,3700,3800,3900,4100,4200,4300,4400], "labels": false, "title": null, "tickSize": -5.5, "tickWidth": 2, "tickColor": "#111", "domain": false, "grid": false}},
            "y": {"field": "c", "type": "quantitative", "scale": {"domain": [-5, 5], "nice": false, "zero": false}, "axis": null}
          }
        },
        {
          "mark": {"type": "rule", "color": "#e41c23", "strokeWidth": 4.5},
          "encoding": {"y": {"datum": 0, "type": "quantitative", "scale": {"domain": [-5, 5], "nice": false, "zero": false}, "axis": null}}
        }
      ],
      "resolve": {"axis": {"x": "independent", "y": "independent"}}
    }
  ],
  "spacing": 44,
  "bounds": "flush"
}
